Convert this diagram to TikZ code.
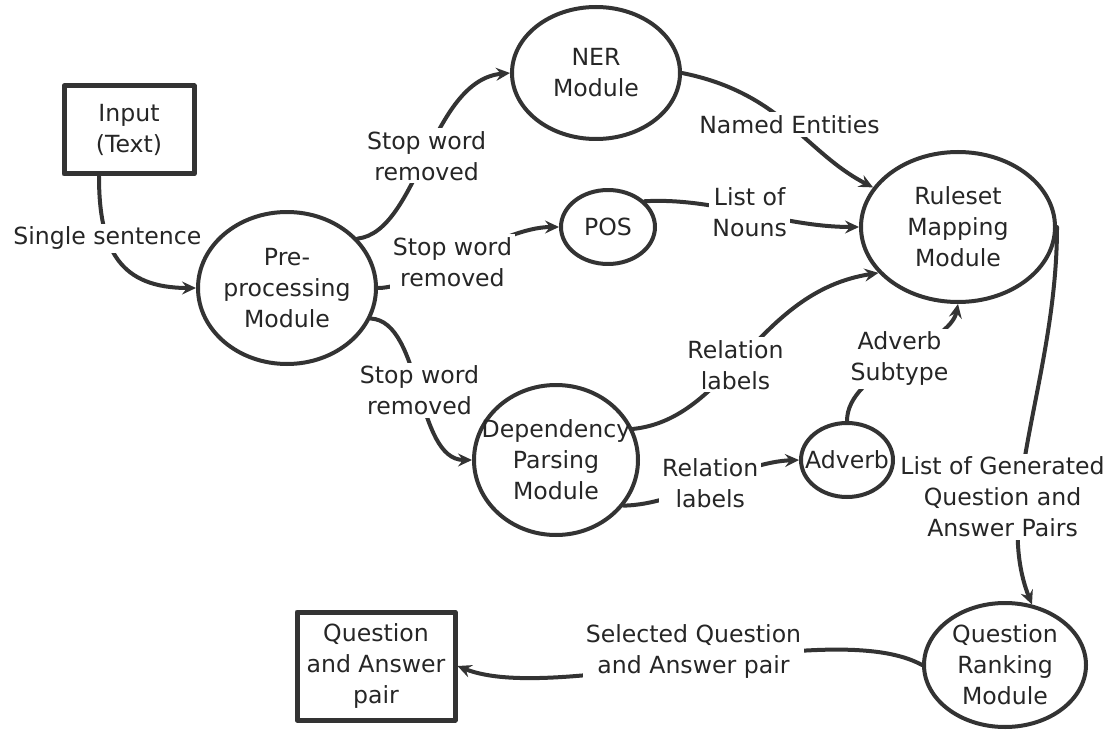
\documentclass[tikz,border=0pt]{standalone}
\usepackage{fontspec}
\setmainfont{DejaVu Sans}
\usetikzlibrary{arrows.meta,shapes.geometric}

\begin{document}
\begin{tikzpicture}[x=0.5pt, y=-0.5pt, line width=2pt, line cap=round, line join=round,
  font=\fontsize{11.8}{15.5}\selectfont, color=black!80, text=black!85,
  proc/.style={ellipse, draw, inner sep=0pt},
  store/.style={rectangle, draw, line width=2.5pt, align=center, inner sep=0pt},
  inner/.style={align=center, inner sep=0pt},
  lbl/.style={fill=white, inner sep=1.5pt, align=center},
  flow/.style={-{Stealth[length=7pt,width=6.5pt,inset=2.5pt]}}]
  \useasboundingbox (0,0) rectangle (1120,733);

  % terminators and process bubbles
  \node[store, minimum width=65pt, minimum height=44pt] (inp) at (129,130) {Input\\(Text)};
  \node[store, minimum width=79pt, minimum height=54pt] (qa) at (376,666) {Question\\and Answer\\pair};
  \node[proc, minimum width=89pt, minimum height=76pt, label={[inner]center:Pre-\\processing\\Module}] (pre) at (287,288) {};
  \node[proc, minimum width=84pt, minimum height=66pt, label={[inner]center:NER\\Module}] (ner) at (596,73) {};
  \node[proc, minimum width=47pt, minimum height=37pt, label={[inner]center:POS}] (pos) at (608,227) {};
  \node[proc, minimum width=97pt, minimum height=75pt, label={[inner]center:Ruleset\\Mapping\\Module}] (rule) at (958,227) {};
  \node[proc, minimum width=82pt, minimum height=75pt, label={[inner]center:Dependency\\Parsing\\Module}] (dep) at (556,460) {};
  \node[proc, minimum width=46pt, minimum height=37pt, label={[inner]center:Adverb}] (adv) at (847,460) {};
  \node[proc, minimum width=81pt, minimum height=62pt, label={[inner]center:Question\\Ranking\\Module}] (rank) at (1005,665) {};

  % data flows, each label sits on its curve
  \draw[flow] ([xshift=-15pt]inp.south) .. controls +(0,75) and +(-75,0) .. (pre.west) node[lbl, pos=0.33] {Single sentence};
  \draw[flow] (pre.35) .. controls +(61,-7) and +(-80,7) .. (ner.west) node[lbl, pos=0.5] {Stop word\\removed};
  \draw[flow] (pre.east) .. controls +(42,0) and +(-59,0) .. (pos.west) node[lbl, pos=0.45] {Stop word\\removed};
  \draw[flow] (pre.-20) .. controls +(52,3) and +(-57,0) .. (dep.west) node[lbl, pos=0.5] {Stop word\\removed};
  \draw[flow] (ner.east) .. controls +(100,20) and +(-68,-35) .. (rule.155) node[lbl, pos=0.5] {Named Entities};
  \draw[flow] (pos.35) .. controls +(72,-4) and +(-78,0) .. (rule.west) node[lbl, pos=0.5] {List of\\Nouns};
  \draw[flow] (dep.22) .. controls +(96,-10) and +(-123,19) .. (rule.210) node[lbl, pos=0.45] {Relation\\labels};
  \draw[flow] (dep.-34) .. controls +(56,-1) and +(-59,2) .. (adv.west) node[lbl, pos=0.5] {Relation\\labels};
  \draw[flow] (adv.north) .. controls +(0,-51) and +(-8,41) .. (rule.south) node[lbl, pos=0.5] {Adverb\\Subtype};
  \draw[flow] (rule.east) .. controls +(0,150) and +(-40,-100) .. (rank.66) node[lbl, pos=0.67, xshift=-9pt] {List of Generated\\Question and\\Answer Pairs};
  \draw[flow] (rank.west) .. controls +(-90,-50) and +(100,40) .. (qa.east) node[lbl, pos=0.5, yshift=5pt] {Selected Question\\and Answer pair};
\end{tikzpicture}
\end{document}
